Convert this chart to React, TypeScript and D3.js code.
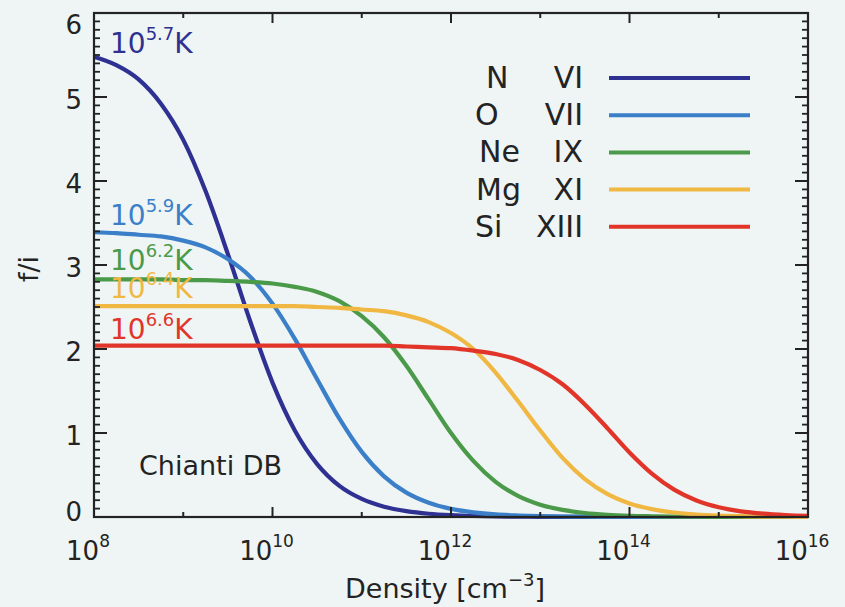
import React from 'react';
import * as d3 from 'd3';

// log10 of density [cm^-3]
const logDensity = [8, 8.25, 8.5, 8.75, 9, 9.25, 9.5, 9.75, 10, 10.25, 10.5, 10.75, 11, 11.25, 11.5, 11.75, 12, 12.25, 12.5, 12.75, 13, 13.25, 13.5, 13.75, 14, 14.25, 14.5, 14.75, 15, 15.25, 15.5, 15.75, 16];

const nVI = [5.48, 5.38, 5.21, 4.92, 4.49, 3.88, 3.13, 2.33, 1.6, 1.03, 0.63, 0.37, 0.215, 0.123, 0.07, 0.039, 0.022, 0.012, 0.007, 0.004, 0.002, 0.001, 0.001, 0, 0, 0, 0, 0, 0, 0, 0, 0, 0];
const oVII = [3.39, 3.38, 3.36, 3.34, 3.29, 3.21, 3.07, 2.86, 2.54, 2.12, 1.64, 1.17, 0.775, 0.484, 0.29, 0.17, 0.097, 0.056, 0.031, 0.018, 0.01, 0.006, 0.003, 0.002, 0.001, 0, 0, 0, 0, 0, 0, 0, 0];
const neIX = [2.83, 2.83, 2.83, 2.83, 2.82, 2.82, 2.81, 2.8, 2.78, 2.74, 2.68, 2.57, 2.39, 2.14, 1.8, 1.4, 1.0, 0.668, 0.419, 0.252, 0.147, 0.085, 0.048, 0.027, 0.015, 0.009, 0.005, 0.003, 0.002, 0.001, 0, 0, 0];
const mgXI = [2.51, 2.51, 2.51, 2.51, 2.51, 2.51, 2.51, 2.51, 2.51, 2.51, 2.5, 2.49, 2.47, 2.45, 2.4, 2.32, 2.19, 2.0, 1.72, 1.38, 1.03, 0.703, 0.451, 0.275, 0.162, 0.094, 0.054, 0.03, 0.017, 0.01, 0.005, 0.003, 0.002];
const siXIII = [2.04, 2.04, 2.04, 2.04, 2.04, 2.04, 2.04, 2.04, 2.04, 2.04, 2.04, 2.04, 2.04, 2.04, 2.03, 2.02, 2.01, 1.98, 1.94, 1.87, 1.75, 1.58, 1.34, 1.06, 0.767, 0.516, 0.326, 0.197, 0.116, 0.067, 0.04, 0.024, 0.014];

const elements = ['N', 'O', 'Ne', 'Mg', 'Si'];
const ions = ['VI', 'VII', 'IX', 'XI', 'XIII'];
const tempExps = ['5.7', '5.9', '6.2', '6.4', '6.6'];
const seriesValues = [nVI, oVII, neIX, mgXI, siXIII];
const colors = ['#2e3191', '#3b7fc9', '#4b9a4a', '#f0b843', '#e1352a'];

const xMajorExps = [8, 10, 12, 14, 16];
const xMinorExps = [9, 11, 13, 15];
const yMajor = [0, 1, 2, 3, 4, 5, 6];

// layout (positions only)
const W = 845;
const H = 607;
const M = { left: 94, right: 808, top: 13, bottom: 517 };
const tempLabelBaselines = [53, 225, 270, 298, 339];
const legendNameX = [486, 475, 479, 476, 475];
const legendTop = 78;
const legendStep = 37.2;

const FONT = "'DejaVu Sans', sans-serif";
const INK = '#232323';

export default function App() {
  const x = d3.scaleLinear().domain([8, 16]).range([M.left, M.right]);
  const y = d3.scaleLinear().domain([0, 6]).range([M.bottom, M.top]);
  const line = d3
    .line<number>()
    .x((_, i) => x(logDensity[i]))
    .y((d) => y(d))
    .curve(d3.curveMonotoneX);

  const yMinor = y.ticks(60).filter((t) => Math.abs(t - Math.round(t)) > 1e-6);

  return (
    <svg
      width={W}
      height={H}
      style={{ position: 'fixed', left: 0, top: 0, background: '#eff5f4' }}
      fontFamily={FONT}
    >
      <rect x={0} y={0} width={W} height={H} fill="#eff5f4" />

      {/* curves */}
      {seriesValues.map((vals, i) => (
        <path key={i} d={line(vals) || ''} fill="none" stroke={colors[i]} strokeWidth={4.2} />
      ))}

      {/* frame */}
      <rect
        x={M.left}
        y={M.top}
        width={M.right - M.left}
        height={M.bottom - M.top}
        fill="none"
        stroke={INK}
        strokeWidth={2.2}
      />

      {/* y ticks left & right */}
      {yMajor.map((t) => (
        <g key={'ym' + t}>
          <line x1={M.left} x2={M.left + 13} y1={y(t)} y2={y(t)} stroke={INK} strokeWidth={2} />
          <line x1={M.right} x2={M.right - 13} y1={y(t)} y2={y(t)} stroke={INK} strokeWidth={2} />
        </g>
      ))}
      {yMinor.map((t) => (
        <g key={'yn' + t}>
          <line x1={M.left} x2={M.left + 6} y1={y(t)} y2={y(t)} stroke={INK} strokeWidth={1.8} />
          <line x1={M.right} x2={M.right - 6} y1={y(t)} y2={y(t)} stroke={INK} strokeWidth={1.8} />
        </g>
      ))}

      {/* x ticks bottom & top */}
      {xMajorExps.map((e) => (
        <g key={'xm' + e}>
          <line x1={x(e)} x2={x(e)} y1={M.bottom} y2={M.bottom - 10} stroke={INK} strokeWidth={2} />
          <line x1={x(e)} x2={x(e)} y1={M.top} y2={M.top + 10} stroke={INK} strokeWidth={2} />
        </g>
      ))}
      {xMinorExps.map((e) => (
        <g key={'xn' + e}>
          <line x1={x(e)} x2={x(e)} y1={M.bottom} y2={M.bottom - 5} stroke={INK} strokeWidth={2} />
          <line x1={x(e)} x2={x(e)} y1={M.top} y2={M.top + 5} stroke={INK} strokeWidth={2} />
        </g>
      ))}

      {/* y tick labels */}
      {yMajor.map((t) => {
        let cy = y(t) + 3;
        if (t === 6) cy = y(t) + 12;
        if (t === 0) cy = y(t) - 5;
        return (
          <text key={'yl' + t} x={M.left - 12} y={cy + 9} fontSize={26} textAnchor="end" fill={INK}>
            {t}
          </text>
        );
      })}

      {/* x tick labels */}
      {xMajorExps.map((e) => (
        <text key={'xl' + e} x={x(e) - 6} y={560} fontSize={26} textAnchor="middle" fill={INK}>
          10
          <tspan fontSize={17} dy={-13}>
            {e}
          </tspan>
        </text>
      ))}

      {/* axis titles */}
      <text x={(M.left + M.right) / 2 - 6} y={598} fontSize={27} textAnchor="middle" fill={INK}>
        Density [cm
        <tspan fontSize={18} dy={-12}>
          −3
        </tspan>
        <tspan dy={12}>]</tspan>
      </text>
      <text
        transform={`translate(38, ${(M.top + M.bottom) / 2 + 4}) rotate(-90)`}
        fontSize={27}
        textAnchor="middle"
        fill={INK}
      >
        f/i
      </text>

      {/* temperature labels */}
      {tempExps.map((t, i) => (
        <text key={'t' + i} x={110} y={tempLabelBaselines[i]} fontSize={28} fill={colors[i]}>
          10
          <tspan fontSize={18} dy={-13}>
            {t}
          </tspan>
          <tspan dy={13}>K</tspan>
        </text>
      ))}

      {/* Chianti DB */}
      <text x={139} y={475} fontSize={27} fill={INK}>
        Chianti DB
      </text>

      {/* legend */}
      {elements.map((el, i) => {
        const ly = legendTop + i * legendStep;
        return (
          <g key={'lg' + i}>
            <text x={legendNameX[i]} y={ly + 10} fontSize={30} fill={INK}>
              {el}
            </text>
            <text x={583} y={ly + 10} fontSize={30} textAnchor="end" fill={INK}>
              {ions[i]}
            </text>
            <line x1={609} x2={750} y1={ly} y2={ly} stroke={colors[i]} strokeWidth={4} />
          </g>
        );
      })}
    </svg>
  );
}
